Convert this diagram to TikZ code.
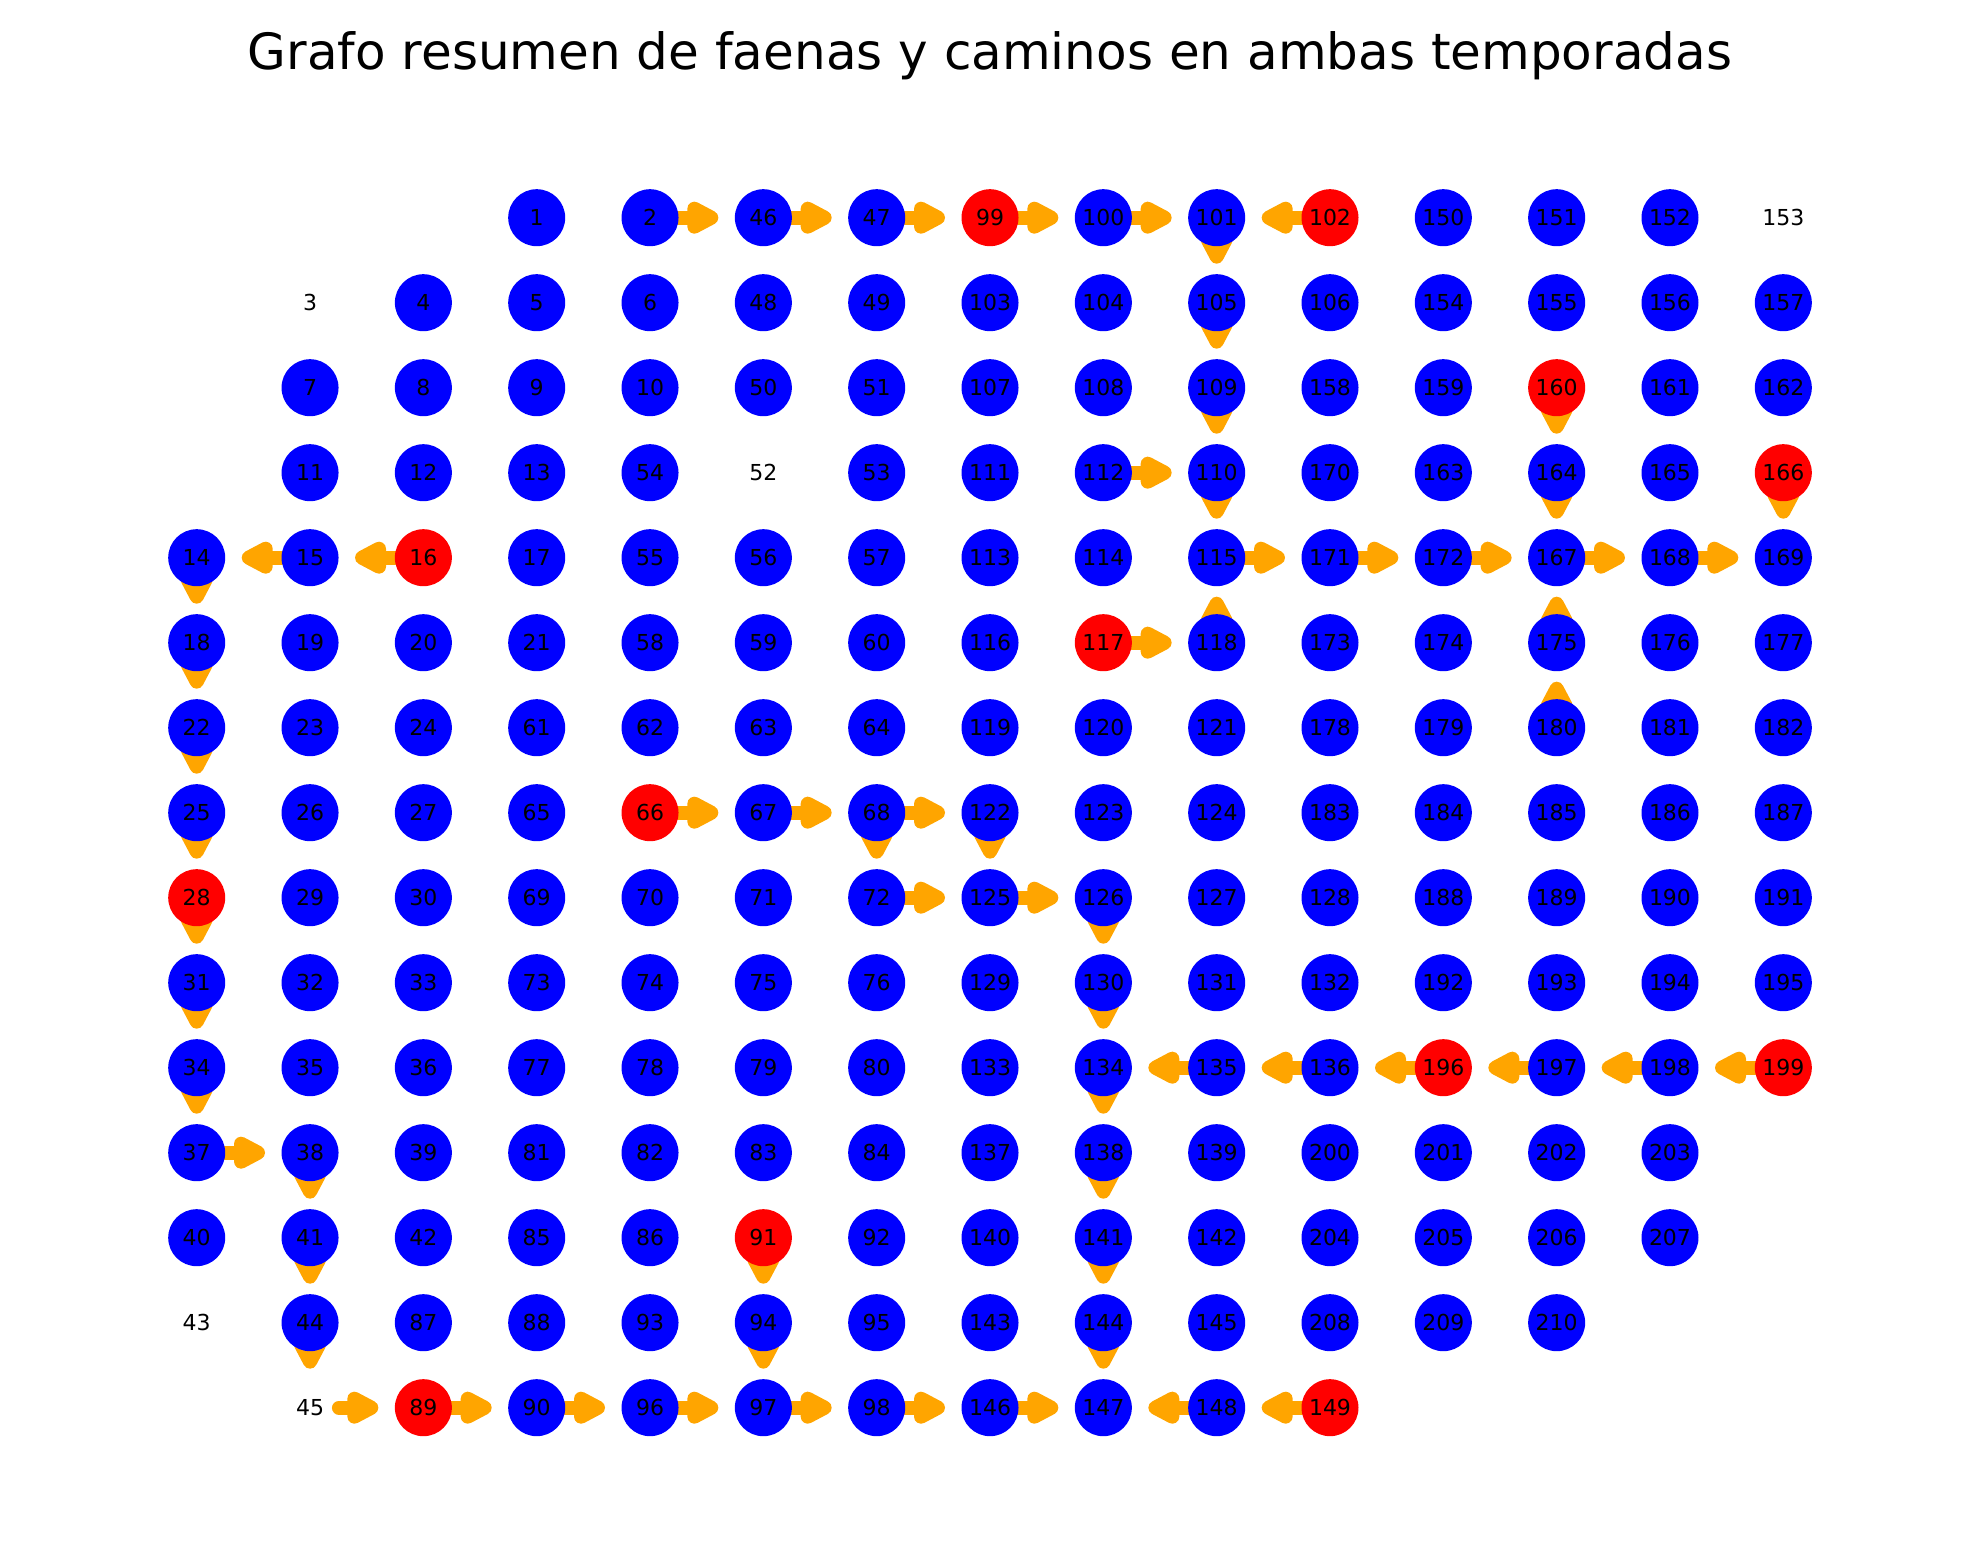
\documentclass[tikz,border=0pt]{standalone}
\usepackage{fontspec}
\setmainfont{DejaVu Sans}
\usepackage{tikz}
\usetikzlibrary{calc,backgrounds}
\definecolor{azul}{RGB}{0,0,255}
\definecolor{rojo}{RGB}{255,0,0}
\definecolor{naranja}{RGB}{255,165,0}
\tikzset{
  faena/.style={circle, fill=azul, minimum size=28.5pt, inner sep=0pt,
                font=\fontsize{11}{13}\selectfont},
  faenaroja/.style={faena, fill=rojo},
  suelta/.style={faena, fill=none},
  camino/.style={draw=naranja, line width=7pt,
                 line cap=round, line join=round},
  titulo/.style={font=\fontsize{25}{30}\selectfont},
}
% arrow from #1 to #2, its tip #3 short of the centre of #2
\newcommand{\flecha}[3]{%
  \coordinate (punta) at ($(#2)!#3!(#1)$);
  \coordinate (base) at ($(punta)!8.5pt!(#1)$);
  \draw[camino] (#1) -- (base);
  \filldraw[camino, fill=naranja] ($(base)!4.5pt!90:(punta)$) -- (punta)
    -- ($(base)!4.5pt!-90:(punta)$) -- cycle;
}

\begin{document}
\begin{tikzpicture}[x=56.665pt,y=-42.5pt]
  \path[use as bounding box] (-1.7357,-2.5612) rectangle (15.7355,15.8271);

  \node[titulo, anchor=base] (titulo) at (7,-1.74)
    {Grafo resumen de faenas y caminos en ambas temporadas};

  % grid of faenas, one row at a time (column/label)
  \foreach \c/\lab in {3/1,4/2,5/46,6/47,8/100,9/101,11/150,12/151,13/152}
    \node[faena] (n\lab) at (\c,0) {\lab};
  \foreach \c/\lab in {2/4,3/5,4/6,5/48,6/49,7/103,8/104,9/105,10/106,11/154,12/155,13/156,14/157}
    \node[faena] (n\lab) at (\c,1) {\lab};
  \foreach \c/\lab in {1/7,2/8,3/9,4/10,5/50,6/51,7/107,8/108,9/109,10/158,11/159,13/161,14/162}
    \node[faena] (n\lab) at (\c,2) {\lab};
  \foreach \c/\lab in {1/11,2/12,3/13,4/54,6/53,7/111,8/112,9/110,10/170,11/163,12/164,13/165}
    \node[faena] (n\lab) at (\c,3) {\lab};
  \foreach \c/\lab in {0/14,1/15,3/17,4/55,5/56,6/57,7/113,8/114,9/115,10/171,11/172,12/167,13/168,14/169}
    \node[faena] (n\lab) at (\c,4) {\lab};
  \foreach \c/\lab in {0/18,1/19,2/20,3/21,4/58,5/59,6/60,7/116,9/118,10/173,11/174,12/175,13/176,14/177}
    \node[faena] (n\lab) at (\c,5) {\lab};
  \foreach \c/\lab in {0/22,1/23,2/24,3/61,4/62,5/63,6/64,7/119,8/120,9/121,10/178,11/179,12/180,13/181,14/182}
    \node[faena] (n\lab) at (\c,6) {\lab};
  \foreach \c/\lab in {0/25,1/26,2/27,3/65,5/67,6/68,7/122,8/123,9/124,10/183,11/184,12/185,13/186,14/187}
    \node[faena] (n\lab) at (\c,7) {\lab};
  \foreach \c/\lab in {1/29,2/30,3/69,4/70,5/71,6/72,7/125,8/126,9/127,10/128,11/188,12/189,13/190,14/191}
    \node[faena] (n\lab) at (\c,8) {\lab};
  \foreach \c/\lab in {0/31,1/32,2/33,3/73,4/74,5/75,6/76,7/129,8/130,9/131,10/132,11/192,12/193,13/194,14/195}
    \node[faena] (n\lab) at (\c,9) {\lab};
  \foreach \c/\lab in {0/34,1/35,2/36,3/77,4/78,5/79,6/80,7/133,8/134,9/135,10/136,12/197,13/198}
    \node[faena] (n\lab) at (\c,10) {\lab};
  \foreach \c/\lab in {0/37,1/38,2/39,3/81,4/82,5/83,6/84,7/137,8/138,9/139,10/200,11/201,12/202,13/203}
    \node[faena] (n\lab) at (\c,11) {\lab};
  \foreach \c/\lab in {0/40,1/41,2/42,3/85,4/86,6/92,7/140,8/141,9/142,10/204,11/205,12/206,13/207}
    \node[faena] (n\lab) at (\c,12) {\lab};
  \foreach \c/\lab in {1/44,2/87,3/88,4/93,5/94,6/95,7/143,8/144,9/145,10/208,11/209,12/210}
    \node[faena] (n\lab) at (\c,13) {\lab};
  \foreach \c/\lab in {3/90,4/96,5/97,6/98,7/146,8/147,9/148}
    \node[faena] (n\lab) at (\c,14) {\lab};

  % red faenas (column/row/label)
  \foreach \c/\r/\lab in {7/0/99,10/0/102,12/2/160,14/3/166,2/4/16,8/5/117,4/7/66,
                          0/8/28,11/10/196,14/10/199,5/12/91,2/14/89,10/14/149}
    \node[faenaroja] (n\lab) at (\c,\r) {\lab};

  % labels with no circle
  \foreach \c/\r/\lab in {14/0/153,1/1/3,5/3/52,0/13/43,1/14/45}
    \node[suelta] (n\lab) at (\c,\r) {\lab};

  % caminos, under the faenas
  \begin{scope}[on background layer]
    \foreach \a/\b in {2/46,46/47,47/99,99/100,100/101,102/101,112/110,
                       115/171,171/172,172/167,167/168,168/169,117/118,
                       16/15,15/14,37/38,45/89,89/90,90/96,96/97,97/98,
                       98/146,146/147,148/147,149/148,66/67,67/68,68/122,
                       72/125,125/126,135/134,136/135,196/136,197/196,
                       198/197,199/198}
      {\flecha{n\a}{n\b}{26pt}}
    \foreach \a/\b in {101/105,105/109,109/110,110/115,166/169,160/164,
                       164/167,175/167,180/175,118/115,14/18,18/22,22/25,
                       25/28,28/31,31/34,34/37,38/41,41/44,44/45,68/72,
                       122/125,126/130,130/134,134/138,138/141,141/144,
                       144/147,91/94,94/97}
      {\flecha{n\a}{n\b}{23pt}}
  \end{scope}
\end{tikzpicture}
\end{document}
